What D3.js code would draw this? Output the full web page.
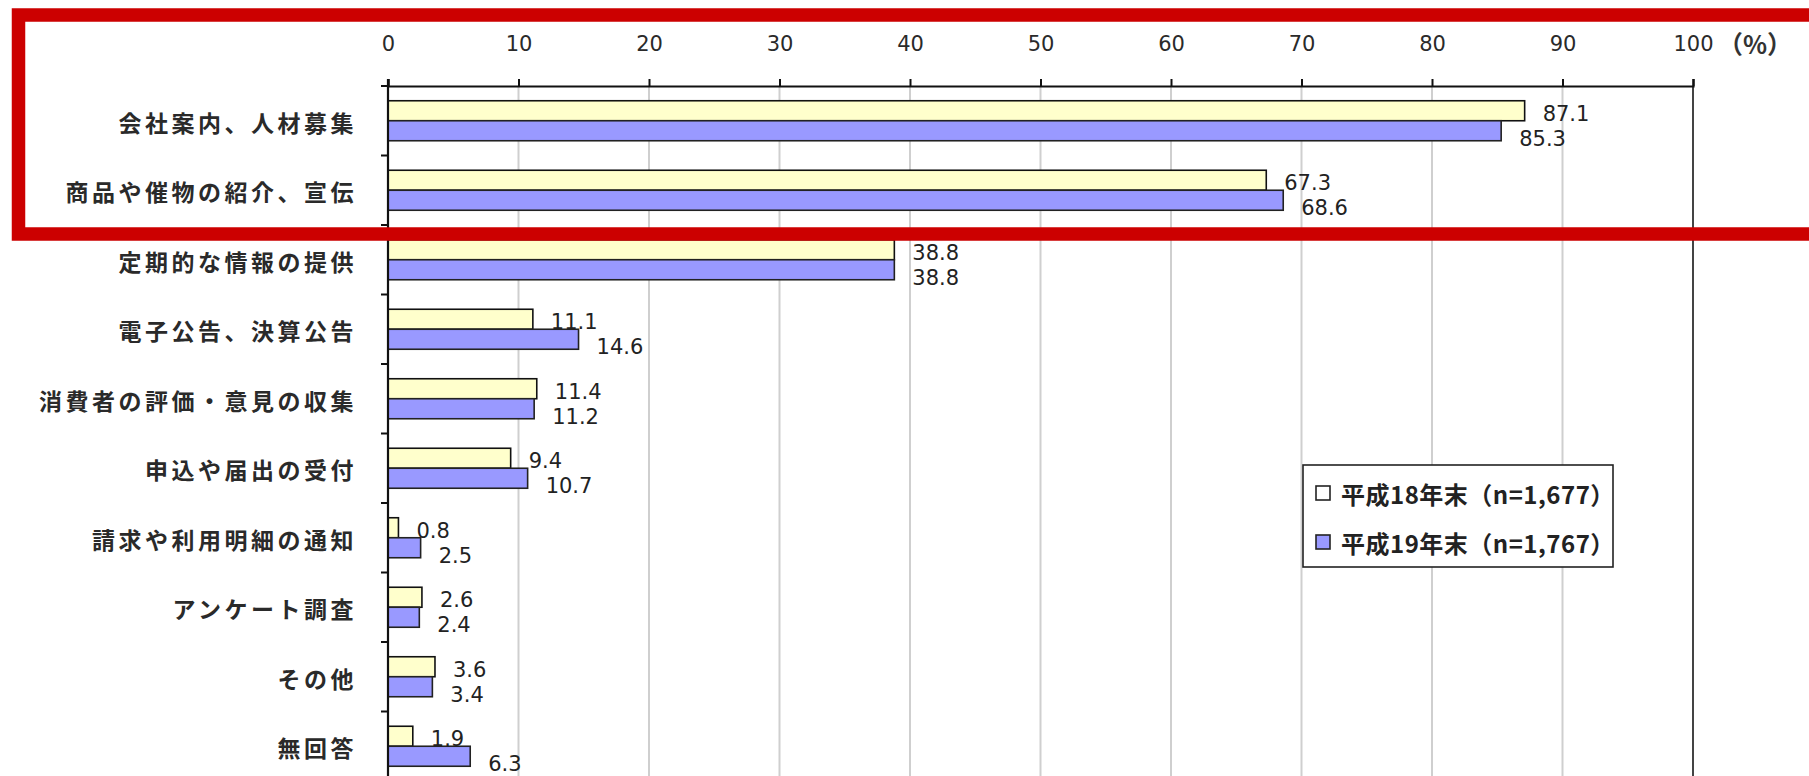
<!DOCTYPE html>
<html>
<head>
<meta charset="utf-8">
<script src="https://cdn.jsdelivr.net/npm/d3@7"></script>
<style>
  html, body { margin: 0; padding: 0; background: #fff; }
  svg { display: block; }
</style>
</head>
<body>
<svg id="chart" width="1809" height="776"></svg>
<script>
const categories = [
  "会社案内、人材募集",
  "商品や催物の紹介、宣伝",
  "定期的な情報の提供",
  "電子公告、決算公告",
  "消費者の評価・意見の収集",
  "申込や届出の受付",
  "請求や利用明細の通知",
  "アンケート調査",
  "その他",
  "無回答"
];
const seriesH18 = [87.1, 67.3, 38.8, 11.1, 11.4, 9.4, 0.8, 2.6, 3.6, 1.9];
const seriesH19 = [85.3, 68.6, 38.8, 14.6, 11.2, 10.7, 2.5, 2.4, 3.4, 6.3];
const seriesNames = ["平成18年末（n=1,677）", "平成19年末（n=1,767）"];
const xTicks = [0, 10, 20, 30, 40, 50, 60, 70, 80, 90, 100];
const unitLabel = "（%）";

const svg = d3.select("#chart");
const W = 1809, H = 776;
const plot = { left: 388, right: 1693, top: 86, bottom: 781 };
const colors = ["#FFFFCC", "#9999FF"];
const strokes = ["#111", "#222"];
const cjk = "'Noto Sans CJK JP', 'Noto Sans CJK SC', sans-serif";
const latin = "'DejaVu Sans', Verdana, sans-serif";

const x = d3.scaleLinear().domain([0, 100]).range([plot.left, plot.right]);
const y = d3.scaleBand().domain(categories).range([plot.top, plot.bottom]).padding(0);
const bw = y.bandwidth();
const sub = d3.scaleBand().domain([0, 1]).range([bw / 2 - 20, bw / 2 + 20]).padding(0);

// gridlines
svg.append("g").selectAll("line")
  .data(xTicks.filter(t => t > 0 && t < 100))
  .join("line")
  .attr("x1", d => x(d)).attr("x2", d => x(d))
  .attr("y1", plot.top).attr("y2", plot.bottom)
  .attr("stroke", "#cfcfcf").attr("stroke-width", 2);

// right border at 100
svg.append("line")
  .attr("x1", x(100)).attr("x2", x(100))
  .attr("y1", plot.top).attr("y2", plot.bottom)
  .attr("stroke", "#444").attr("stroke-width", 2);

// bars
const series = [seriesH18, seriesH19];
series.forEach((vals, si) => {
  svg.append("g").selectAll("rect")
    .data(categories.map((c, i) => ({ c, v: vals[i] })))
    .join("rect")
    .attr("x", x(0))
    .attr("y", d => y(d.c) + sub(si))
    .attr("width", d => x(d.v) - x(0))
    .attr("height", sub.bandwidth())
    .attr("fill", colors[si])
    .attr("stroke", strokes[si])
    .attr("stroke-width", 1.6);
});

// value labels
series.forEach((vals, si) => {
  svg.append("g").selectAll("text")
    .data(categories.map((c, i) => ({ c, v: vals[i] })))
    .join("text")
    .attr("x", d => x(d.v) + 18)
    .attr("y", d => y(d.c) + sub(si) + sub.bandwidth() / 2 + (si === 0 ? 3 : 8))
    .attr("dominant-baseline", "central")
    .attr("font-family", latin)
    .attr("font-size", 21)
    .attr("fill", "#222")
    .text(d => d.v.toFixed(1));
});

// top axis
const xAxis = d3.axisTop(x).tickValues(xTicks).tickSize(7).tickPadding(28).tickFormat(d3.format("d"));
const gx = svg.append("g").attr("transform", `translate(0,${plot.top})`).call(xAxis);
gx.select(".domain").attr("stroke", "#111").attr("stroke-width", 2.2);
gx.selectAll(".tick line").attr("stroke", "#111").attr("stroke-width", 2);
gx.selectAll(".tick text")
  .attr("font-family", latin).attr("font-size", 21).attr("fill", "#2a2a2a");

svg.append("text")
  .attr("x", x(100) + 25).attr("y", plot.top - 43)
  .attr("dominant-baseline", "central")
  .attr("font-family", cjk).attr("font-size", 25).attr("font-weight", "bold")
  .attr("fill", "#333")
  .text(unitLabel);

// left axis line
svg.append("line")
  .attr("x1", x(0)).attr("x2", x(0))
  .attr("y1", plot.top - 7).attr("y2", plot.bottom)
  .attr("stroke", "#111").attr("stroke-width", 2.2);

// left ticks at band boundaries
const boundaries = categories.map(c => y(c)).concat([y(categories[categories.length - 1]) + bw]);
svg.append("g").selectAll("line")
  .data(boundaries)
  .join("line")
  .attr("x1", x(0) - 7).attr("x2", x(0))
  .attr("y1", d => d).attr("y2", d => d)
  .attr("stroke", "#111").attr("stroke-width", 2);

// category labels
svg.append("g").selectAll("text")
  .data(categories)
  .join("text")
  .attr("x", 357)
  .attr("y", d => y(d) + bw / 2 + 1)
  .attr("text-anchor", "end")
  .attr("dominant-baseline", "central")
  .attr("font-family", cjk)
  .attr("font-size", 23)
  .attr("font-weight", "bold")
  .attr("letter-spacing", 3.5)
  .attr("fill", "#2a2a2a")
  .text(d => d);

// legend
const lg = svg.append("g");
lg.append("rect")
  .attr("x", 1303).attr("y", 465).attr("width", 310).attr("height", 102)
  .attr("fill", "#fff").attr("stroke", "#222").attr("stroke-width", 1.6);
const legendY = d3.scalePoint().domain(seriesNames).range([493, 542]);
seriesNames.forEach((name, i) => {
  lg.append("rect")
    .attr("x", 1316).attr("y", legendY(name) - 7)
    .attr("width", 14).attr("height", 14)
    .attr("fill", i === 0 ? "#fff" : colors[1])
    .attr("stroke", "#222").attr("stroke-width", 1.6);
  lg.append("text")
    .attr("x", 1341).attr("y", legendY(name))
    .attr("dominant-baseline", "central")
    .attr("font-family", cjk).attr("font-size", 24).attr("font-weight", "bold")
    .attr("letter-spacing", 0.5)
    .attr("fill", "#222")
    .text(name);
});

// red highlight frame
svg.append("rect")
  .attr("x", 18.5).attr("y", 15)
  .attr("width", W + 40).attr("height", 219)
  .attr("fill", "none")
  .attr("stroke", "#CC0000").attr("stroke-width", 13.5);
</script>
</body>
</html>
